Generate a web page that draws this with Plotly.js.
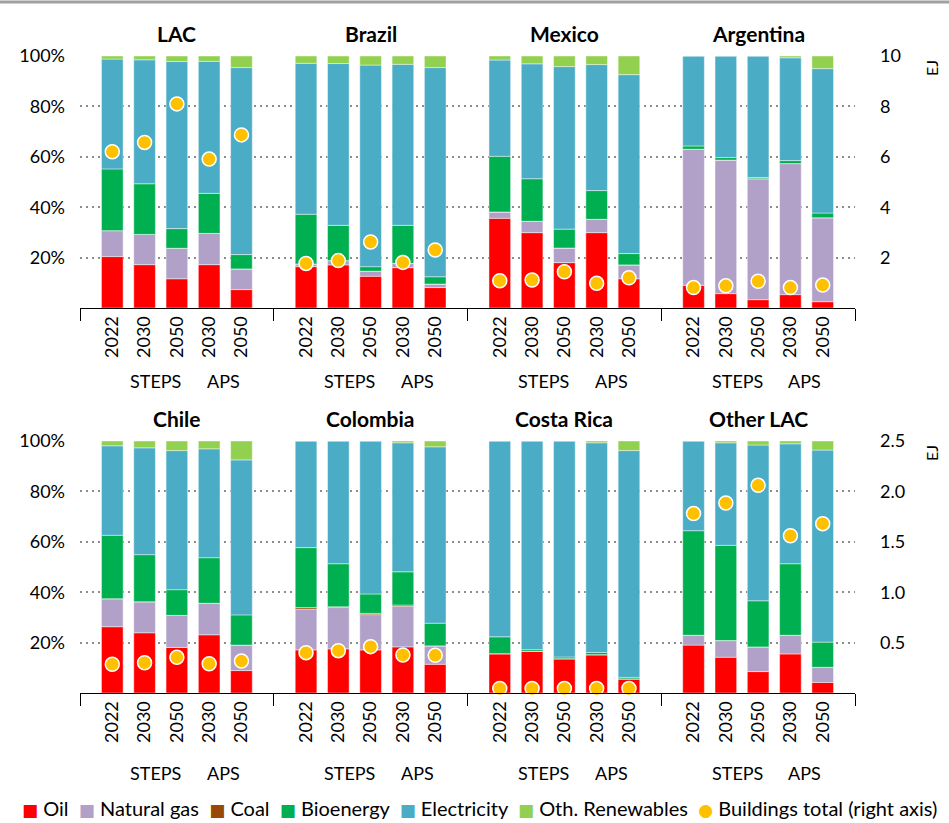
<!DOCTYPE html>
<html><head><meta charset="utf-8">
<script src="https://cdn.plot.ly/plotly-3.0.1.min.js"></script>
<style>html,body{margin:0;padding:0;background:#fff}</style>
</head><body><div id="chart" style="width:949px;height:823px"></div>
<script>
// ---- data (shares of buildings final consumption, %, and totals in EJ) ----
const regions = ['LAC','Brazil','Mexico','Argentina','Chile','Colombia','Costa Rica','Other LAC'];
const years = ['2022','2030','2050','2030','2050'];
const scenarioLabels = ['STEPS','APS'];
const pctTicks = [20,40,60,80,100];
const pctLabels = ['20%','40%','60%','80%','100%'];
const ejTicksTop = [2,4,6,8,10];
const ejTicksBottom = [0.5,1,1.5,2,2.5];

const oil = [
  [20.4,17.2,11.6,17.2,7.3],[16.4,17.1,12.6,16.0,8.1],[35.6,29.9,18.0,29.9,11.6],[9.0,5.7,3.3,5.3,2.5],
  [26.3,23.9,18.1,23.1,8.9],[17.1,17.5,17.1,18.3,11.4],[15.6,16.5,13.6,15.2,5.6],[19.0,14.2,8.5,15.5,4.2]];
const gas = [
  [10.3,12.0,12.1,12.4,8.2],[1.1,1.7,2.0,1.7,1.4],[2.5,4.5,5.8,5.3,5.5],[54.0,53.0,48.0,52.0,33.3],
  [11.1,12.3,12.7,12.5,10.1],[16.2,16.4,14.0,16.1,7.3],[0,0,0,0,0],[3.9,6.6,9.8,7.4,6.0]];
const coal = [
  [0,0,0,0,0],[0,0,0,0,0],[0,0,0,0,0],[0,0,0,0,0],
  [0,0,0,0,0],[0.6,0.3,0.5,0.5,0],[0,0,0,0,0],[0,0,0,0,0]];
const bio = [
  [24.5,20.1,7.8,15.9,5.7],[19.7,14.0,1.8,15.1,2.9],[22.1,16.9,7.5,11.4,4.5],[1.3,1.0,0.5,1.2,1.9],
  [25.2,18.7,10.2,18.1,12.0],[23.8,17.1,7.7,13.2,9.0],[6.7,0.7,0.7,0.9,0.6],[41.5,37.8,18.3,28.4,10.0]];
const elec = [
  [43.6,49.2,66.3,52.4,74.2],[59.9,64.2,80.0,63.9,83.0],[38.2,45.6,64.5,50.0,71.0],[35.7,40.3,48.2,40.8,57.3],
  [35.5,42.4,55.2,43.2,61.5],[42.3,48.7,60.7,51.2,70.0],[77.7,82.8,85.7,83.2,90.0],[35.6,40.7,61.8,47.6,76.2]];
const othRen = [
  [1.2,1.5,2.2,2.1,4.6],[2.9,3.0,3.6,3.3,4.6],[1.6,3.1,4.2,3.4,7.4],[0,0,0,0.7,5.0],
  [1.9,2.7,3.8,3.1,7.5],[0,0,0,0.7,2.3],[0,0,0,0.7,3.8],[0,0.7,1.6,1.1,3.6]];
const totalEJ = [
  [6.2,6.57,8.1,5.91,6.87],[1.77,1.88,2.62,1.81,2.30],[1.08,1.11,1.44,0.98,1.2],[0.81,0.88,1.06,0.81,0.91],
  [0.285,0.30,0.354,0.29,0.317],[0.40,0.42,0.46,0.377,0.374],[0.045,0.045,0.045,0.045,0.045],[1.78,1.885,2.06,1.56,1.68]];

const seriesNames = ['Oil','Natural gas','Coal','Bioenergy','Electricity','Oth. Renewables'];
const seriesData = [oil, gas, coal, bio, elec, othRen];
const seriesColors = ['#FF0000','#B1A0C7','#984807','#00B050','#4BACC6','#92D050'];
const dotName = 'Buildings total (right axis)';
const dotColor = '#FFC000';

// ---- build traces ----
const FONT = 'Lato, "Liberation Sans", Arial, sans-serif';
const slotsPerPanel = 6;
function xpos(panel, j){ return panel*slotsPerPanel + j + 1; }

const traces = [];
for (let row = 0; row < 2; row++) {
  const xa = row === 0 ? 'x' : 'x2';
  const ya = row === 0 ? 'y' : 'y3';
  seriesNames.forEach((name, s) => {
    const xs = [], ys = [];
    for (let p = 0; p < 4; p++) {
      const r = row*4 + p;
      for (let j = 0; j < 5; j++) { xs.push(xpos(p, j)); ys.push(seriesData[s][r][j]); }
    }
    traces.push({type:'bar', name, x: xs, y: ys, xaxis: xa, yaxis: ya,
      width: 0.67, marker:{color: seriesColors[s], line:{color:'rgba(255,255,255,0.55)', width:0.8}},
      showlegend: false, legendgroup: name, hoverinfo:'skip'});
  });
}
for (let row = 0; row < 2; row++) {
  const xs = [], ys = [];
  for (let p = 0; p < 4; p++) {
    const r = row*4 + p;
    for (let j = 0; j < 5; j++) { xs.push(xpos(p, j)); ys.push(totalEJ[r][j]); }
  }
  traces.push({type:'scatter', mode:'markers', name: dotName, x: xs, y: ys,
    xaxis: row === 0 ? 'x' : 'x2', yaxis: row === 0 ? 'y2' : 'y4',
    marker:{color: dotColor, size: 14, line:{color:'#fff', width:1.5}},
    cliponaxis: false, showlegend: false, legendgroup:'dot', hoverinfo:'skip'});
}

// ---- axes ----
const tickPos = [], tickText = [];
for (let p = 0; p < 4; p++) for (let j = 0; j < 5; j++) { tickPos.push(xpos(p, j)); tickText.push(years[j]); }

const tickFont = {family:FONT, size:18, color:'#000'};
function xAxis(anchor){
  return {anchor, domain:[0,1], range:[0, 4*slotsPerPanel], showgrid:false, zeroline:false,
    showline:true, linecolor:'#000', linewidth:1, tickmode:'array', tickvals: tickPos, ticktext: tickText,
    tickangle:-90, ticks:'', tickfont: tickFont, fixedrange:true,
    minor:{tickmode:'linear', tick0:0, dtick:slotsPerPanel, ticks:'outside', ticklen:12, tickcolor:'#000', tickwidth:1, showgrid:false}};
}
function yLeft(domain, anchor){
  return {domain, anchor, range:[0,100], tickmode:'array', tickvals: pctTicks, ticktext: pctLabels,
    zeroline:false, showline:false, ticks:'', ticklabelstandoff:14, fixedrange:true, tickfont: tickFont,
    showgrid:true, gridcolor:'#8c8c8c', gridwidth:2, griddash:'2px,4px'};
}
function yRight(overlay, anchor, range, tickvals, fmt){
  return {overlaying: overlay, side:'right', anchor, range, tickmode:'array', tickvals, tickformat: fmt,
    showgrid:false, zeroline:false, showline:false, ticks:'', ticklabelstandoff:24, fixedrange:true, tickfont: tickFont};
}
const H = 783; // paper height (823 - bottom margin 40)
const topDom = [(H-308)/H, (H-56)/H], botDom = [(H-693)/H, (H-441)/H];

const layout = {
  width:949, height:823, margin:{l:80, r:94, t:0, b:40},
  paper_bgcolor:'#fff', plot_bgcolor:'rgba(0,0,0,0)',
  barmode:'relative', bargap:0, showlegend:false,
  font:{family:FONT, size:18, color:'#000'},
  xaxis: xAxis('y'),
  xaxis2: xAxis('y3'),
  yaxis: yLeft(topDom, 'x'),
  yaxis2: yRight('y', 'x', [0,10], ejTicksTop, 'd'),
  yaxis3: yLeft(botDom, 'x2'),
  yaxis4: yRight('y3', 'x2', [0,2.5], ejTicksBottom, '.1f'),
  annotations: [],
  shapes: [{type:'line', xref:'paper', yref:'paper', x0:-80/775, x1:869/775, y0:(H-2)/H, y1:(H-2)/H,
    line:{color:'#a0a0a0', width:3}}]
};

regions.forEach((name, r) => {
  const row = Math.floor(r/4), p = r % 4;
  const xr = row===0 ? 'x' : 'x2';
  layout.annotations.push({text:'<b>'+name+'</b>', xref: xr, yref:'paper',
    x: p*slotsPerPanel + 3, y: row===0 ? (H-33)/H : (H-418)/H, showarrow:false,
    xanchor:'center', yanchor:'middle', font:{family:FONT, size:21, color:'#000'}});
  const sy = row===0 ? (H-381)/H : (H-773)/H;
  layout.annotations.push({text: scenarioLabels[0], xref: xr, yref:'paper',
    x: p*slotsPerPanel + 2.35, y: sy, showarrow:false,
    xanchor:'center', yanchor:'middle', font:{family:FONT, size:18, color:'#000'}});
  layout.annotations.push({text: scenarioLabels[1], xref: xr, yref:'paper',
    x: p*slotsPerPanel + 4.45, y: sy, showarrow:false,
    xanchor:'center', yanchor:'middle', font:{family:FONT, size:18, color:'#000'}});
});
[68, 453].forEach((yy) => {
  layout.annotations.push({text:'EJ', xref:'paper', yref:'paper', x:(931-80)/775, y:(H-yy)/H,
    showarrow:false, textangle:-90, xanchor:'center', yanchor:'middle', font:{family:FONT, size:16, color:'#000'}});
});

// ---- legend (one line of text, coloured symbols) ----
const legendParts = seriesNames.map((n, s) =>
  '<span style="color:' + seriesColors[s] + ';font-family:DejaVu Sans;font-size:17px">■</span> ' + n);
legendParts.push('<span style="color:' + dotColor + ';font-family:DejaVu Sans;font-size:17px">●</span> ' + dotName);
layout.annotations.push({text: legendParts.join('&nbsp; '), xref:'paper', yref:'paper',
  x:(479-80)/775, y:(H-808)/H, xanchor:'center', yanchor:'middle', showarrow:false,
  font:{family:FONT, size:20, color:'#000'}});

Plotly.newPlot('chart', traces, layout, {displayModeBar:false, staticPlot:true});
</script></body></html>
